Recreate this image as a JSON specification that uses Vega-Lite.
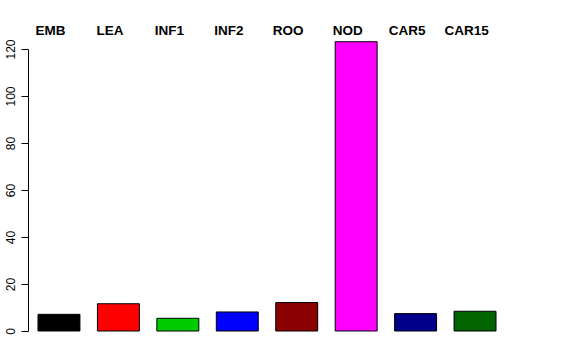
{
  "$schema": "https://vega.github.io/schema/vega-lite/v6.json",
  "width": 478,
  "height": 282,
  "autosize": {"type": "none"},
  "padding": {"left": 28, "top": 49, "right": 70, "bottom": 29},
  "background": "white",
  "config": {"view": {"stroke": null}, "font": "Liberation Sans"},
  "data": {"values": [
    {"tissue": "EMB", "value": 7.1},
    {"tissue": "LEA", "value": 11.6},
    {"tissue": "INF1", "value": 5.4},
    {"tissue": "INF2", "value": 8.1},
    {"tissue": "ROO", "value": 12.1},
    {"tissue": "NOD", "value": 123.1},
    {"tissue": "CAR5", "value": 7.4},
    {"tissue": "CAR15", "value": 8.4}
  ]},
  "mark": {"type": "bar", "stroke": "black", "strokeWidth": 1, "clip": false},
  "encoding": {
    "x": {
      "field": "tissue", "type": "nominal", "sort": null,
      "scale": {"paddingInner": 0.294, "paddingOuter": 0.168},
      "axis": {
        "orient": "top", "title": null, "domain": false, "ticks": false,
        "labelAlign": "center", "labelBaseline": "alphabetic",
        "labelAngle": 0, "labelPadding": 15, "labelOffset": -8.5,
        "labelFont": "Liberation Sans", "labelFontWeight": "bold", "labelFontSize": 13.5,
        "labelColor": "black"
      }
    },
    "y": {
      "field": "value", "type": "quantitative",
      "scale": {"domain": [0, 120], "nice": false, "zero": true},
      "axis": {
        "title": null, "grid": false, "values": [0, 20, 40, 60, 80, 100, 120],
        "domainColor": "black", "tickColor": "black", "tickSize": 7,
        "labelAngle": 270, "labelAlign": "center", "labelBaseline": "bottom",
        "labelPadding": 4, "labelFont": "Liberation Sans", "labelFontSize": 12,
        "labelColor": "black"
      }
    },
    "fill": {
      "field": "tissue", "type": "nominal", "sort": null, "legend": null,
      "scale": {
        "domain": ["EMB", "LEA", "INF1", "INF2", "ROO", "NOD", "CAR5", "CAR15"],
        "range": ["#000000", "#FF0000", "#00CD00", "#0000FF", "#8B0000", "#FF00FF", "#00008B", "#006400"]
      }
    }
  }
}
